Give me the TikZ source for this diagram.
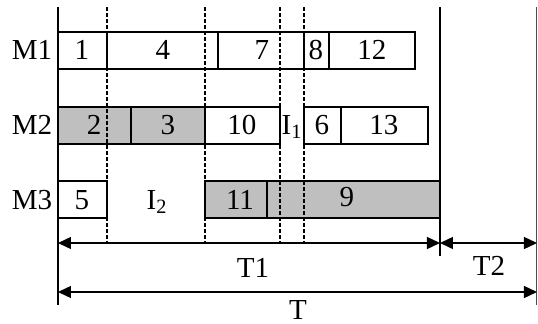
\documentclass[tikz,border=0pt]{standalone}
\usepackage{fontspec}
\setmainfont{Liberation Serif}
\usetikzlibrary{arrows.meta}
\tikzset{
  job/.style={draw, line width=0.7pt},
  busy/.style={job, fill=black!22},
  guide/.style={dash pattern=on 2pt off 1pt, line width=0.6pt},
  span/.style={{Triangle[length=6.5pt,width=6pt]}-{Triangle[length=6.5pt,width=6pt]}, line width=0.7pt}
}
\begin{document}
\begin{tikzpicture}[x=0.5pt,y=-0.5pt,font=\fontsize{14.5}{16}\selectfont]
    \useasboundingbox (0,0) rectangle (538,323);
    % shaded jobs
    \fill[black!25] (58,107) rectangle (205,144);
    \fill[black!25] (205,181) rectangle (440,218);
    % dashed guides
    \foreach \gx in {107,205,280,304}
      \draw[guide] (\gx,7) -- (\gx,242);
    % machine M1
    \draw[job] (58,32) rectangle (107,69);
    \draw[job] (107,32) rectangle (218,69);
    \draw[job] (218,32) rectangle (304,69);
    \draw[job] (304,32) rectangle (329,69);
    \draw[job] (329,32) rectangle (415,69);
    % machine M2
    \draw[job] (58,107) rectangle (131,144);
    \draw[job] (131,107) rectangle (205,144);
    \draw[job] (205,107) rectangle (280,144);
    \draw[job] (304,107) rectangle (341,144);
    \draw[job] (341,107) rectangle (428,144);
    % machine M3
    \draw[job] (58,181) rectangle (107,218);
    \draw[job] (205,181) rectangle (267,218);
    \draw[job] (267,181) rectangle (440,218);
    % axes
    \coordinate (o) at (58,7);
    \coordinate (ob) at (58,305);
    \coordinate (c1) at (440,7);
    \coordinate (c1b) at (440,256);
    \coordinate (c2) at (536.5,7);
    \coordinate (c2b) at (536.5,305);
    \draw[line width=0.8pt] (o) -- (ob);
    \draw[line width=0.8pt] (c1) -- (c1b);
    \draw[line width=0.6pt, black!70] (c2) -- (c2b);
    % spans
    \coordinate (s0) at (58,243);
    \coordinate (s1) at (440,243);
    \coordinate (s2) at (537,243);
    \coordinate (t0) at (58,292);
    \coordinate (t1) at (537,292);
    \draw[span] (s0) -- (s1);
    \draw[span] (s1) -- (s2);
    \draw[span] (t0) -- (t1);
    % labels
    \node (m1) at (32,50) {M1};
    \node (m2) at (32,125) {M2};
    \node (m3) at (32,200) {M3};
    \node (j1) at (82,50) {1};
    \node (j4) at (163,50) {4};
    \node (j7) at (262,50) {7};
    \node (j8) at (316,50) {8};
    \node (j12) at (372,50) {12};
    \node (j2) at (94,125) {2};
    \node (j3) at (168,125) {3};
    \node (j10) at (242,125) {10};
    \node (i1) at (292,127) {I\textsubscript{1}};
    \node (j6) at (322,125) {6};
    \node (j13) at (384,125) {13};
    \node (j5) at (82,200) {5};
    \node (i2) at (157,202) {I\textsubscript{2}};
    \node (j11) at (240,200) {11};
    \node (j9) at (347,197) {9};
    \node (lt1) at (253,268) {T1};
    \node (lt2) at (489,266) {T2};
    \node (lt) at (298,310) {T};
\end{tikzpicture}
\end{document}
